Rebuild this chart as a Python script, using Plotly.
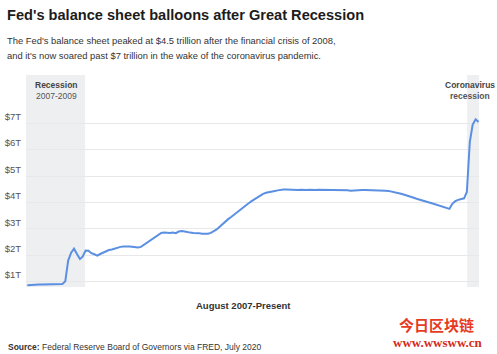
import pandas as pd
import plotly.graph_objects as go

# Fed total assets, trillions of dollars, mid-month readings (Aug 2007 - Jul 2020)
v2007 = [0.87, 0.88, 0.88, 0.89, 0.89]
v2008 = [0.89, 0.89, 0.89, 0.89, 0.89, 0.90, 0.91, 0.91, 1.02, 1.80, 2.10, 2.25]
v2009 = [2.05, 1.86, 1.95, 2.18, 2.17, 2.08, 2.04, 1.99, 2.05, 2.10, 2.14, 2.20]
v2010 = [2.22, 2.26, 2.30, 2.32, 2.33, 2.34, 2.33, 2.32, 2.31, 2.30, 2.32, 2.40]
v2011 = [2.47, 2.55, 2.64, 2.72, 2.79, 2.85, 2.86, 2.85, 2.85, 2.86, 2.84, 2.90]
v2012 = [2.92, 2.90, 2.87, 2.86, 2.85, 2.85, 2.84, 2.82, 2.81, 2.82, 2.85, 2.90]
v2013 = [2.98, 3.08, 3.18, 3.28, 3.37, 3.45, 3.54, 3.63, 3.71, 3.80, 3.88, 3.97]
v2014 = [4.05, 4.13, 4.20, 4.27, 4.33, 4.37, 4.40, 4.42, 4.44, 4.46, 4.48, 4.49]
v2015 = [4.49, 4.48, 4.49, 4.48, 4.47, 4.48, 4.47, 4.47, 4.48, 4.47, 4.47, 4.48]
v2016 = [4.48, 4.47, 4.47, 4.46, 4.46, 4.47, 4.46, 4.46, 4.46, 4.46, 4.45, 4.46]
v2017 = [4.46, 4.46, 4.47, 4.47, 4.47, 4.47, 4.46, 4.46, 4.46, 4.46, 4.45, 4.44]
v2018 = [4.42, 4.40, 4.37, 4.34, 4.31, 4.28, 4.24, 4.20, 4.17, 4.13, 4.09, 4.06]
v2019 = [4.03, 4.00, 3.97, 3.93, 3.89, 3.86, 3.82, 3.77, 3.76, 3.95, 4.05, 4.10]
v2020 = [4.13, 4.16, 4.40, 6.30, 6.95, 7.15, 7.05]

values = v2007 + v2008 + v2009 + v2010 + v2011 + v2012 + v2013 + v2014 + \
    v2015 + v2016 + v2017 + v2018 + v2019 + v2020
dates = pd.date_range("2007-08-01", periods=len(values), freq="MS") + pd.Timedelta(days=14)

tick_vals = [1, 2, 3, 4, 5, 6, 7]
tick_text = ["$1T", "$2T", "$3T", "$4T", "$5T", "$6T", "$7T"]

recessions = [("2007-08-01", "2009-04-10"), ("2020-03-18", "2020-07-20")]

W, H = 497, 354
L, R, T, B = 26, 18, 75, 67
PW, PH = W - L - R, H - T - B


def px(x):
    return (x - L) / PW


def py(y):
    return (H - B - y) / PH


FONT = "Liberation Sans, Arial, sans-serif"

fig = go.Figure()
fig.add_trace(go.Scatter(
    x=dates, y=values, mode="lines",
    line=dict(color="#5a8fe2", width=2),
    hoverinfo="skip", showlegend=False,
))

for x0, x1 in recessions:
    fig.add_shape(type="rect", xref="x", yref="paper", x0=x0, x1=x1, y0=0, y1=1,
                  fillcolor="#eeeff1", line=dict(width=0), layer="below")

ann = []


def text(s, x, y, size, color, xanchor="left", family=FONT):
    ann.append(dict(text=s, x=px(x), y=py(y), xref="paper", yref="paper",
                    xanchor=xanchor, yanchor="middle", showarrow=False,
                    borderpad=0, borderwidth=0,
                    font=dict(size=size, color=color, family=family)))


text("<b>Fed's balance sheet balloons after Great Recession</b>", 7, 15, 14.6, "#1c1c1c")
text("The Fed's balance sheet peaked at $4.5 trillion after the financial crisis of 2008,",
     7, 41, 9.4, "#333333")
text("and it's now soared past $7 trillion in the wake of the coronavirus pandemic.",
     7, 55.5, 9.4, "#333333")
text("<b>Recession</b>", 56, 85, 8.5, "#444444", "center")
text("2007-2009", 56, 95.5, 8.5, "#555555", "center")
text("<b>Coronavirus</b>", 469.5, 85, 8.5, "#444444", "center")
text("<b>recession</b>", 469.5, 95.5, 8.5, "#555555", "center")
text("<b>August 2007-Present</b>", 243.5, 305, 9.5, "#333333", "center")
text("<b>Source:</b> Federal Reserve Board of Governors via FRED, July 2020",
     8, 347, 8.5, "#333333")
text("<b>今日区块链</b>", 436.5, 324, 15, "#e63b1f", "center", "Noto Sans CJK SC")
text("<b>www.wwsww.cn</b>", 437.5, 342.5, 13, "#d42a1a", "center",
     "Liberation Serif, DejaVu Serif, serif")

fig.update_layout(
    width=W, height=H,
    margin=dict(l=L, r=R, t=T, b=B, pad=0, autoexpand=False),
    paper_bgcolor="white", plot_bgcolor="white",
    font=dict(family=FONT, size=9.5, color="#555555"),
    annotations=ann,
    showlegend=False,
    xaxis=dict(range=["2007-08-01", "2020-07-20"], showgrid=False, showticklabels=False,
               ticks="", zeroline=False, showline=False, fixedrange=True,
               automargin=False),
    yaxis=dict(range=[0.8, 8.83], tickvals=tick_vals, ticktext=tick_text,
               showgrid=True, gridcolor="#e8e8e8", gridwidth=1, zeroline=False,
               showline=False, ticks="", ticklabelposition="outside top",
               ticklabelstandoff=4, automargin=False,
               tickfont=dict(size=9.5, color="#555555", family=FONT), fixedrange=True),
)

fig.write_html("out.html", config={"displayModeBar": False})
